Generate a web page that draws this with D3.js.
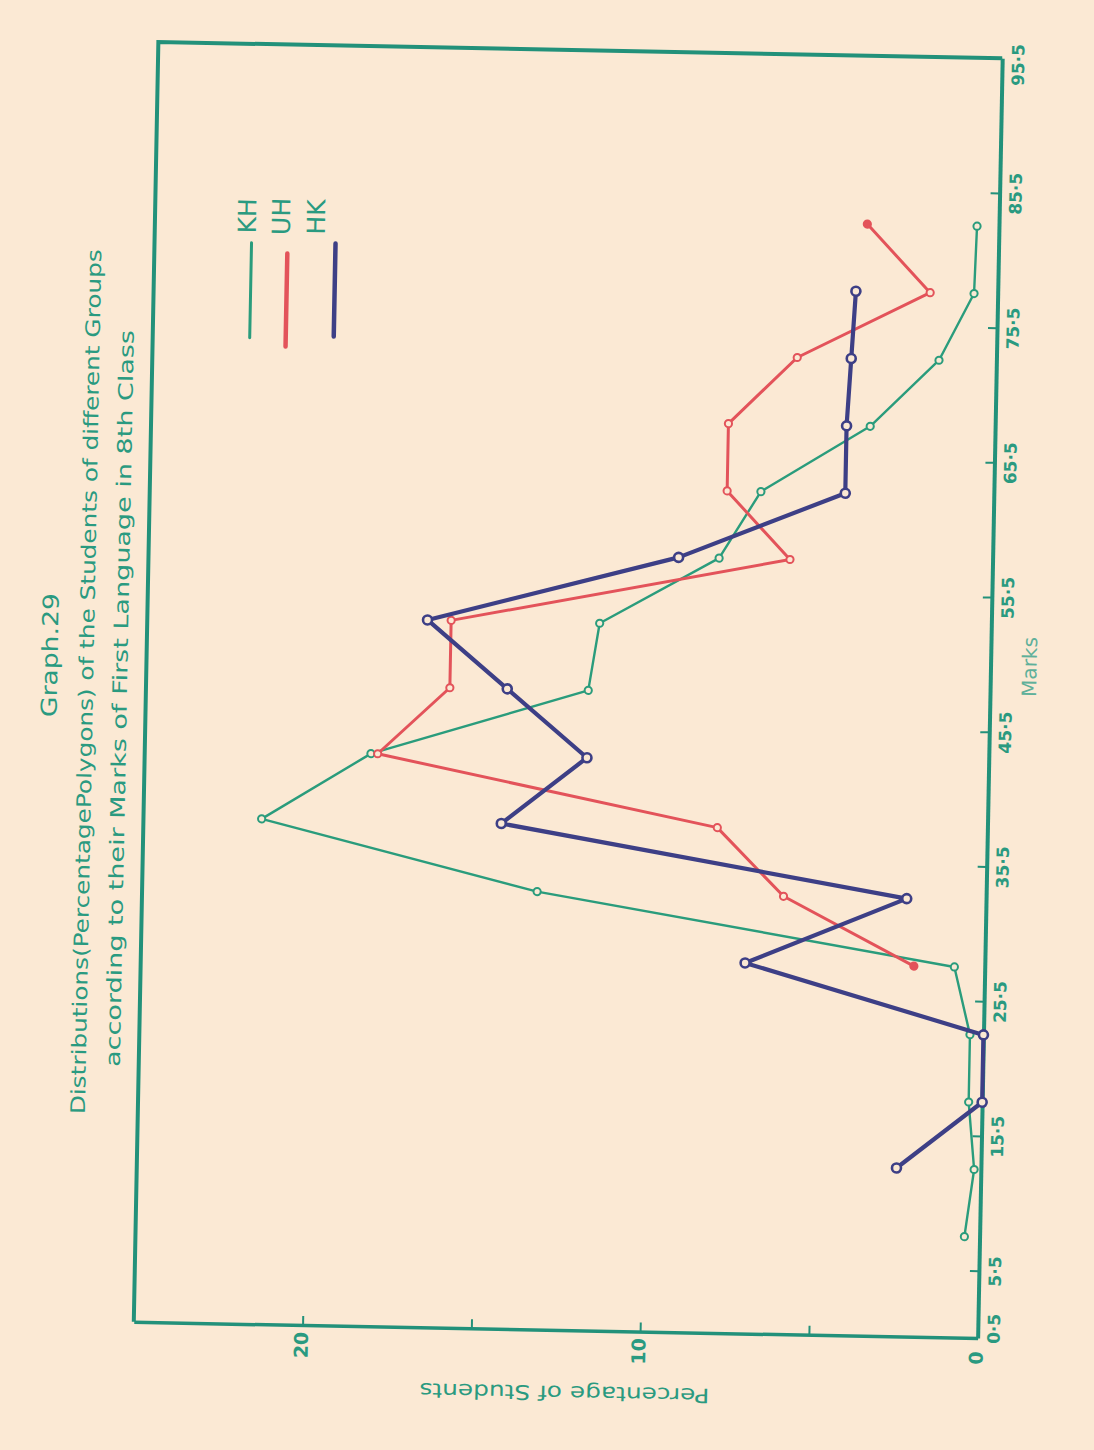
<!DOCTYPE html>
<html><head><meta charset="utf-8">
<script src="https://cdn.jsdelivr.net/npm/d3@7"></script>
<style>
html,body{margin:0;padding:0;background:#fbe9d4;}
svg{display:block;}
text{font-family:"DejaVu Sans","Liberation Sans",Arial,sans-serif;}
</style></head><body>
<svg id="chart" width="1094" height="1450"></svg>
<script>
// ---- data (percentage of students at class-interval mid-points of marks) ----
const khMarks  = [8,13,18,23,28,33,38,43,48,53,58,63,68,73,78,83];
const khValues = [0.45,0.2,0.4,0.4,0.9,13.3,21.5,18.3,11.9,11.6,8.1,6.9,3.7,1.7,0.7,0.65];
const uhMarks  = [28,33,38,43,48,53,58,63,68,73,78,83];
const uhValues = [2.1,6.0,8.0,18.1,16.0,16.0,6.0,7.9,7.9,5.9,2.0,3.9];
const hkMarks  = [13,18,23,28,33,38,43,48,53,58,63,68,73,78];
const hkValues = [2.5,0,0,7.1,2.35,14.4,11.9,14.3,16.7,9.3,4.4,4.4,4.3,4.2];

const seriesNames  = ["KH","UH","HK"];
const markTicks      = [0.5,5.5,15.5,25.5,35.5,45.5,55.5,65.5,75.5,85.5,95.5];
const markTickLabels = ["0·5","5·5","15·5","25·5","35·5","45·5","55·5","65·5","75·5","85·5","95·5"];
const pctTicks       = [0,5,10,15,20];
const pctTickLabels  = ["0","","10","","20"];
const titleLines = ["Graph.29",
  "Distributions(PercentagePolygons) of the Students of different Groups",
  "according to their Marks of First Language in 8th Class"];
const xTitle = "Marks";
const yTitle = "Percentage of Students";

// ---- styles ----
const teal = "#22917a", tealText = "#2a9a80", paper = "#fbe9d4";
const colors = {KH:"#2a9c7c", UH:"#e3535a", HK:"#3d3f86"};
const widths = {KH:2.4, UH:3, HK:4.2};
const series = [
  {name:"KH", marks:khMarks, values:khValues},
  {name:"UH", marks:uhMarks, values:uhValues},
  {name:"HK", marks:hkMarks, values:hkValues}
];

const svg = d3.select("#chart");
svg.append("rect").attr("width",1094).attr("height",1450).attr("fill",paper);
const g = svg.append("g").attr("transform","rotate(1.1,567,690)");

const fLeft=146, fRight=990, fTop=50, fBottom=1330;
const yM = d3.scaleLinear().domain([0.5,95.5]).range([fBottom,fTop]);
const xP = d3.scaleLinear().domain([0,25]).range([fRight,fLeft]);

// frame (left & top borders)
g.append("path").attr("d",`M${fRight},${fTop}H${fLeft}V${fBottom}`)
  .attr("fill","none").attr("stroke",teal).attr("stroke-width",4);

// marks axis (right side)
const mAxis = d3.axisRight(yM).tickValues(markTicks)
  .tickFormat((d,i)=>markTickLabels[i]).tickSizeInner(-9).tickSizeOuter(0);
const ma = g.append("g").attr("transform",`translate(${fRight},0)`).call(mAxis);
ma.select(".domain").attr("stroke",teal).attr("stroke-width",4);
ma.selectAll(".tick line").attr("stroke",teal).attr("stroke-width",2);
ma.selectAll(".tick text")
  .attr("x",null).attr("dy",null)
  .attr("transform",(d,i)=>`translate(22,${i===0?-10:(i===markTicks.length-1?6:0)}) rotate(-90)`)
  .attr("text-anchor","middle").attr("fill",tealText)
  .style("font-size","17px").style("font-weight","bold");

// percentage axis (bottom)
const pAxis = d3.axisBottom(xP).tickValues(pctTicks)
  .tickFormat((d,i)=>pctTickLabels[i]).tickSizeInner(-9).tickSizeOuter(0);
const pa = g.append("g").attr("transform",`translate(0,${fBottom})`).call(pAxis);
pa.select(".domain").attr("stroke",teal).attr("stroke-width",3.5);
pa.selectAll(".tick line").attr("stroke",teal).attr("stroke-width",2);
pa.selectAll(".tick text")
  .attr("y",null).attr("dy",null)
  .attr("transform","translate(5,20) rotate(-90)")
  .attr("text-anchor","middle").attr("fill",tealText)
  .style("font-size","19px").style("font-weight","bold");

// axis titles
g.append("text").text(xTitle)
  .attr("transform",`translate(1036,658) rotate(-90)`)
  .attr("text-anchor","middle").attr("fill","#5fb09a").style("font-size","20px");
g.append("text").text(yTitle)
  .attr("transform",`translate(578,1393) rotate(180)`)
  .attr("text-anchor","middle").attr("dominant-baseline","central")
  .attr("textLength",290).attr("lengthAdjust","spacingAndGlyphs")
  .attr("fill",tealText).style("font-size","20px");

// chart titles
const titleSpec = [
  {x:57, y:665, size:22, len:124},
  {x:93, y:691, size:20, len:865},
  {x:127, y:707, size:20, len:737}
];
titleLines.forEach((t,i)=>{
  const s = titleSpec[i];
  g.append("text").text(t)
    .attr("transform",`translate(${s.x},${s.y}) rotate(-90)`)
    .attr("text-anchor","middle")
    .attr("textLength",s.len).attr("lengthAdjust","spacingAndGlyphs")
    .attr("fill",tealText).style("font-size",s.size+"px");
});

// data lines
const line = d3.line().x(d=>xP(d.v)).y(d=>yM(d.m));
series.forEach(s=>{
  const pts = s.marks.map((m,i)=>({m, v:s.values[i], i}));
  const n = pts.length;
  g.append("path").datum(pts).attr("d",line)
    .attr("fill","none").attr("stroke",colors[s.name])
    .attr("stroke-width",widths[s.name]).attr("stroke-linejoin","round");
  g.append("g").selectAll("circle").data(pts).join("circle")
    .attr("cx",d=>xP(d.v)).attr("cy",d=>yM(d.m))
    .attr("r",s.name==="HK"?4.5:3.6)
    .attr("fill",d=>(s.name==="UH" && (d.i===0||d.i===n-1)) ? colors.UH : paper)
    .attr("stroke",colors[s.name])
    .attr("stroke-width",s.name==="HK"?2.6:2);
});

// legend
const legendSpec = [
  {lx:243, y1:249, y2:344, tx:247},
  {lx:279, y1:259, y2:352, tx:281},
  {lx:327, y1:248, y2:341, tx:316}
];
seriesNames.forEach((n,i)=>{
  const L = legendSpec[i];
  g.append("line").attr("x1",L.lx).attr("x2",L.lx).attr("y1",L.y1).attr("y2",L.y2)
    .attr("stroke",colors[n]).attr("stroke-width",n==="KH"?3:4.5)
    .attr("stroke-linecap","round");
  g.append("text").text(n)
    .attr("transform",`translate(${L.tx},222) rotate(-90)`)
    .attr("text-anchor","middle").attr("fill",tealText).style("font-size","25px");
});
</script>
</body></html>
